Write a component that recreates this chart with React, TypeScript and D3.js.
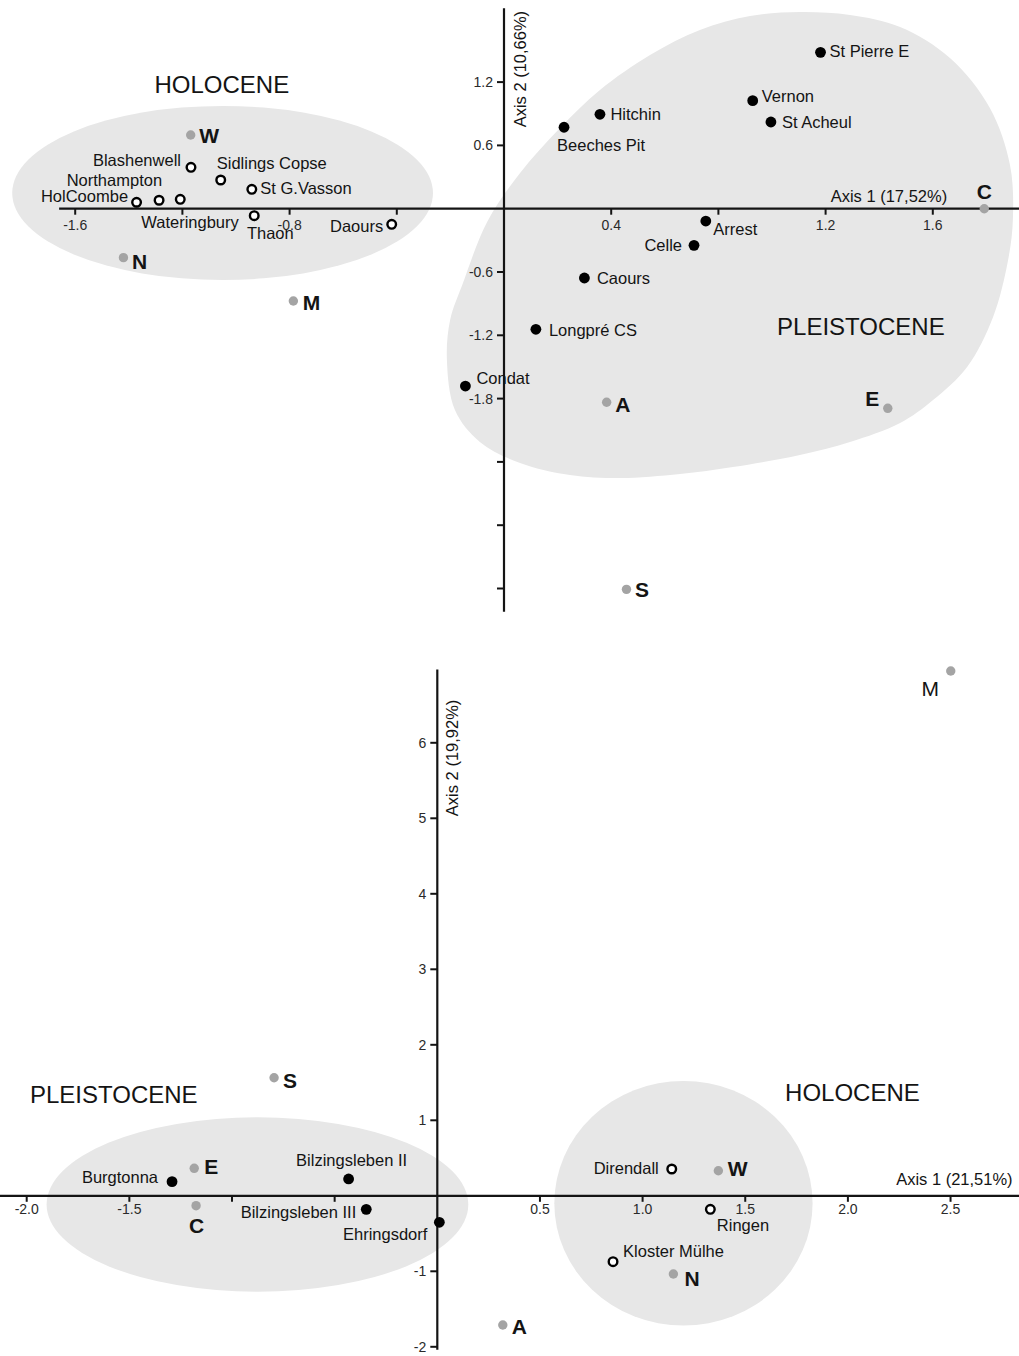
import React from 'react';
import * as d3 from 'd3';

type Pt = { name: string; a1: number; a2: number };
type Anchor = 'start' | 'middle' | 'end';

// ---------- Panel 1: axis 1 (17,52%) vs axis 2 (10,66%) ----------
const topPleistoceneSites: Pt[] = [
  { name: 'St Pierre E', a1: 1.181, a2: 1.482 },
  { name: 'Vernon', a1: 0.928, a2: 1.024 },
  { name: 'St Acheul', a1: 0.996, a2: 0.822 },
  { name: 'Hitchin', a1: 0.358, a2: 0.895 },
  { name: 'Beeches Pit', a1: 0.224, a2: 0.772 },
  { name: 'Arrest', a1: 0.753, a2: -0.117 },
  { name: 'Celle', a1: 0.709, a2: -0.347 },
  { name: 'Caours', a1: 0.3, a2: -0.657 },
  { name: 'Longpré CS', a1: 0.119, a2: -1.143 },
  { name: 'Condat', a1: -0.144, a2: -1.681 },
];

const topHoloceneSites: Pt[] = [
  { name: 'Blashenwell', a1: -1.168, a2: 0.392 },
  { name: 'Sidlings Copse', a1: -1.057, a2: 0.272 },
  { name: 'St G.Vasson', a1: -0.941, a2: 0.184 },
  { name: 'HolCoombe', a1: -1.371, a2: 0.061 },
  { name: 'Northampton', a1: -1.287, a2: 0.08 },
  { name: 'Wateringbury', a1: -1.208, a2: 0.089 },
  { name: 'Thaon', a1: -0.932, a2: -0.066 },
  { name: 'Daours', a1: -0.419, a2: -0.148 },
];

const topVariables: Pt[] = [
  { name: 'W', a1: -1.169, a2: 0.699 },
  { name: 'N', a1: -1.42, a2: -0.464 },
  { name: 'M', a1: -0.786, a2: -0.875 },
  { name: 'C', a1: 1.792, a2: 0.0 },
  { name: 'A', a1: 0.383, a2: -1.835 },
  { name: 'E', a1: 1.432, a2: -1.892 },
  { name: 'S', a1: 0.457, a2: -3.608 },
];

// outline of the Pleistocene group, in axis units
const topPleistoceneHull: [number, number][] = [
  [-0.213, -1.434], [-0.201, -1.055], [-0.153, -0.704], [-0.063, -0.126],
  [0.06, 0.338], [0.209, 0.765], [0.358, 1.125], [0.545, 1.457],
  [0.731, 1.694], [0.918, 1.827], [1.104, 1.864], [1.291, 1.836],
  [1.478, 1.722], [1.664, 1.428], [1.813, 0.954], [1.888, 0.414],
  [1.899, -0.09], [1.881, -0.486], [1.825, -1.026], [1.728, -1.5],
  [1.601, -1.813], [1.478, -2.031], [1.291, -2.211], [1.104, -2.335],
  [0.854, -2.448], [0.657, -2.515], [0.433, -2.553], [0.246, -2.524],
  [0.06, -2.41], [-0.09, -2.211], [-0.183, -1.908],
];
const topHoloceneEllipse = { cx: -1.05, cy: 0.149, rx: 0.785, ry: 0.825 };

const topXTicks = [-1.6, -1.2, -0.8, -0.4, 0.4, 0.8, 1.2, 1.6];
const topXTickLabels = ['-1.6', '', '-0.8', '', '0.4', '', '1.2', '1.6'];
const topYTicks = [1.2, 0.6, -0.6, -1.2, -1.8, -2.4, -3.0, -3.6];
const topYTickLabels = ['1.2', '0.6', '-0.6', '-1.2', '-1.8', '', '', ''];

// ---------- Panel 2: axis 1 (21,51%) vs axis 2 (19,92%) ----------
const bottomPleistoceneSites: Pt[] = [
  { name: 'Burgtonna', a1: -1.292, a2: 0.187 },
  { name: 'Bilzingsleben II', a1: -0.432, a2: 0.223 },
  { name: 'Bilzingsleben III', a1: -0.346, a2: -0.179 },
  { name: 'Ehringsdorf', a1: 0.01, a2: -0.351 },
];

const bottomHoloceneSites: Pt[] = [
  { name: 'Direndall', a1: 1.142, a2: 0.355 },
  { name: 'Ringen', a1: 1.33, a2: -0.179 },
  { name: 'Kloster Mülhe', a1: 0.856, a2: -0.873 },
];

const bottomVariables: Pt[] = [
  { name: 'S', a1: -0.795, a2: 1.564 },
  { name: 'E', a1: -1.184, a2: 0.364 },
  { name: 'C', a1: -1.175, a2: -0.131 },
  { name: 'A', a1: 0.319, a2: -1.711 },
  { name: 'W', a1: 1.369, a2: 0.332 },
  { name: 'N', a1: 1.15, a2: -1.036 },
  { name: 'M', a1: 2.501, a2: 6.951 },
];

const bottomPleistoceneEllipse = { cx: -0.876, cy: -0.115, rx: 1.027, ry: 1.155 };
const bottomHoloceneEllipse = { cx: 1.199, cy: -0.099, rx: 0.629, ry: 1.62 };

const bottomXTicks = [-2, -1.5, -1, -0.5, 0.5, 1, 1.5, 2, 2.5];
const bottomXTickLabels = ['-2.0', '-1.5', '', '', '0.5', '1.0', '1.5', '2.0', '2.5'];
const bottomYTicks = [6, 5, 4, 3, 2, 1, -1, -2];
const bottomYTickLabels = ['6', '5', '4', '3', '2', '1', '-1', '-2'];

// ---------- label placement (pixel offsets from the marker) ----------
type Place = [number, number, Anchor?, boolean?];
const topPlacement: Record<string, Place> = {
  'St Pierre E': [9, 5],
  Vernon: [9, 1],
  'St Acheul': [11, 6],
  Hitchin: [10.5, 6],
  'Beeches Pit': [-7, 24],
  Arrest: [7.5, 14],
  Celle: [-12, 5.5, 'end'],
  Caours: [12.5, 5.5],
  'Longpré CS': [13, 6.5],
  Condat: [11, -2],
  Blashenwell: [-10, -1.5, 'end'],
  'Sidlings Copse': [-4, -11.5],
  'St G.Vasson': [8.5, 5],
  HolCoombe: [-8.5, -0.5, 'end'],
  Northampton: [3, -14.5, 'end'],
  Wateringbury: [-39, 29],
  Thaon: [-7.3, 23.6],
  Daours: [-8.5, 7.5, 'end'],
  W: [8.5, 7.7],
  N: [8.5, 11.6],
  M: [9.5, 9],
  A: [8.5, 10],
  C: [0, -10, 'middle'],
  E: [-8.5, -2, 'end'],
  S: [8.5, 7.5],
};
const bottomPlacement: Record<string, Place> = {
  S: [9, 10],
  E: [10, 6],
  Burgtonna: [-14, 1, 'end'],
  C: [0.5, 27.5, 'middle'],
  'Bilzingsleben II': [3, -13, 'middle'],
  'Bilzingsleben III': [-10, 9, 'end'],
  Ehringsdorf: [-12, 17.7, 'end'],
  A: [9, 9.3],
  Direndall: [-13, 5, 'end'],
  W: [9.5, 5.5],
  Ringen: [6.5, 21.5],
  'Kloster Mülhe': [10, -4.5],
  N: [11, 11.7],
  M: [-20.5, 24.7, 'middle', false],
};

const FONT = "'Liberation Sans', Arial, Helvetica, sans-serif";
const INK = '#141414';
const REGION = '#e7e7e7';
const VARIABLE = '#a4a4a4';

type Ellipse = { cx: number; cy: number; rx: number; ry: number };

type PanelProps = {
  x: d3.ScaleLinear<number, number>;
  y: d3.ScaleLinear<number, number>;
  xExtent: [number, number];
  yExtent: [number, number];
  xTicks: number[];
  xTickLabels: string[];
  yTicks: number[];
  yTickLabels: string[];
  xTickLabelGap: number;
  yTickGap: number;
  hull?: [number, number][];
  ellipses: Ellipse[];
  pleistocene: Pt[];
  holocene: Pt[];
  variables: Pt[];
  placement: Record<string, Place>;
  axis1Label: string;
  axis1Pos: [number, number];
  axis2Label: string;
  axis2Pos: [number, number];
  groupLabels: { text: string; a1: number; a2: number; anchor: Anchor }[];
};

function Biplot(p: PanelProps) {
  const { x, y } = p;
  const x0 = x(0);
  const y0 = y(0);
  const hullPath = p.hull
    ? d3
        .line<[number, number]>()
        .x((d) => x(d[0]))
        .y((d) => y(d[1]))
        .curve(d3.curveCatmullRomClosed.alpha(0.5))(p.hull)
    : null;

  const label = (d: Pt, big: boolean) => {
    const pl = p.placement[d.name] || [8, 5];
    const [dx, dy, anchor = 'start', bold = true] = pl;
    return (
      <text
        key={'l' + d.name}
        x={x(d.a1) + dx}
        y={y(d.a2) + dy}
        textAnchor={anchor}
        fontSize={big ? 21 : 16.5}
        fontWeight={big && bold ? 700 : 400}
        fill={INK}
      >
        {d.name}
      </text>
    );
  };

  return (
    <g fontFamily={FONT}>
      {/* group regions */}
      {hullPath && <path d={hullPath} fill={REGION} />}
      {p.ellipses.map((e, i) => (
        <ellipse
          key={'e' + i}
          cx={x(e.cx)}
          cy={y(e.cy)}
          rx={x(e.cx + e.rx) - x(e.cx)}
          ry={y(e.cy) - y(e.cy + e.ry)}
          fill={REGION}
        />
      ))}
      {p.groupLabels.map((g) => (
        <text
          key={g.text}
          x={x(g.a1)}
          y={y(g.a2)}
          textAnchor={g.anchor}
          fontSize={24}
          fill={INK}
        >
          {g.text}
        </text>
      ))}

      {/* axes through the origin */}
      <line x1={x(p.xExtent[0])} x2={x(p.xExtent[1])} y1={y0} y2={y0} stroke={INK} strokeWidth={2.2} />
      <line x1={x0} x2={x0} y1={y(p.yExtent[0])} y2={y(p.yExtent[1])} stroke={INK} strokeWidth={2.2} />
      {p.xTicks.map((t, i) => (
        <g key={'xt' + t} transform={`translate(${x(t)},${y0})`}>
          <line y1={0} y2={6} stroke={INK} strokeWidth={2} />
          {p.xTickLabels[i] && (
            <text y={p.xTickLabelGap} textAnchor="middle" fontSize={14} fill="#2a2a2a">
              {p.xTickLabels[i]}
            </text>
          )}
        </g>
      ))}
      {p.yTicks.map((t, i) => (
        <g key={'yt' + t} transform={`translate(${x0},${y(t)})`}>
          <line x1={-7} x2={0} stroke={INK} strokeWidth={2} />
          {p.yTickLabels[i] && (
            <text x={-p.yTickGap} dy="0.35em" textAnchor="end" fontSize={14} fill="#2a2a2a">
              {p.yTickLabels[i]}
            </text>
          )}
        </g>
      ))}
      <text x={p.axis1Pos[0]} y={p.axis1Pos[1]} fontSize={16.5} fill={INK}>
        {p.axis1Label}
      </text>
      <text
        transform={`translate(${p.axis2Pos[0]},${p.axis2Pos[1]}) rotate(-90)`}
        textAnchor="middle"
        fontSize={16.5}
        fill={INK}
      >
        {p.axis2Label}
      </text>

      {/* markers */}
      {p.variables.map((d) => (
        <circle key={'v' + d.name} cx={x(d.a1)} cy={y(d.a2)} r={4.7} fill={VARIABLE} />
      ))}
      {p.pleistocene.map((d) => (
        <circle key={'p' + d.name} cx={x(d.a1)} cy={y(d.a2)} r={5.4} fill="#000" />
      ))}
      {p.holocene.map((d) => (
        <circle key={'h' + d.name} cx={x(d.a1)} cy={y(d.a2)} r={4.3} fill="#fff" stroke="#000" strokeWidth={2.4} />
      ))}

      {/* labels */}
      {p.pleistocene.map((d) => label(d, false))}
      {p.holocene.map((d) => label(d, false))}
      {p.variables.map((d) => label(d, true))}
    </g>
  );
}

export default function App() {
  const topX = d3.scaleLinear().domain([-1.6, 1.6]).range([75.2, 932.8]);
  const topY = d3.scaleLinear().domain([-1.8, 1.2]).range([398.6, 82.1]);
  const botX = d3.scaleLinear().domain([-2, 2.5]).range([26.7, 950.55]);
  const botY = d3.scaleLinear().domain([-2, 6]).range([1346.8, 742.8]);

  return (
    <svg
      width={1019}
      height={1356}
      viewBox="0 0 1019 1356"
      style={{ position: 'absolute', left: 0, top: 0, background: '#fff' }}
    >
      <rect width={1019} height={1356} fill="#fff" />
      <Biplot
        x={topX}
        y={topY}
        xExtent={[-1.66, 1.93]}
        yExtent={[-3.82, 1.9]}
        xTicks={topXTicks}
        xTickLabels={topXTickLabels}
        yTicks={topYTicks}
        yTickLabels={topYTickLabels}
        xTickLabelGap={21}
        yTickGap={11}
        hull={topPleistoceneHull}
        ellipses={[topHoloceneEllipse]}
        pleistocene={topPleistoceneSites}
        holocene={topHoloceneSites}
        variables={topVariables}
        placement={topPlacement}
        axis1Label="Axis 1 (17,52%)"
        axis1Pos={[topX(1.219), topY(0.066)]}
        axis2Label="Axis 2 (10,66%)"
        axis2Pos={[topX(0.083), topY(1.323)]}
        groupLabels={[
          { text: 'HOLOCENE', a1: -1.053, a2: 1.1, anchor: 'middle' },
          { text: 'PLEISTOCENE', a1: 1.019, a2: -1.197, anchor: 'start' },
        ]}
      />
      <Biplot
        x={botX}
        y={botY}
        xExtent={[-2.13, 2.84]}
        yExtent={[-2.04, 6.97]}
        xTicks={bottomXTicks}
        xTickLabels={bottomXTickLabels}
        yTicks={bottomYTicks}
        yTickLabels={bottomYTickLabels}
        xTickLabelGap={18}
        yTickGap={11}
        ellipses={[bottomPleistoceneEllipse, bottomHoloceneEllipse]}
        pleistocene={bottomPleistoceneSites}
        holocene={bottomHoloceneSites}
        variables={bottomVariables}
        placement={bottomPlacement}
        axis1Label="Axis 1 (21,51%)"
        axis1Pos={[botX(2.235), botY(0.143)]}
        axis2Label="Axis 2 (19,92%)"
        axis2Pos={[botX(0.1), botY(5.8)]}
        groupLabels={[
          { text: 'PLEISTOCENE', a1: -1.984, a2: 1.233, anchor: 'start' },
          { text: 'HOLOCENE', a1: 1.694, a2: 1.256, anchor: 'start' },
        ]}
      />
    </svg>
  );
}
